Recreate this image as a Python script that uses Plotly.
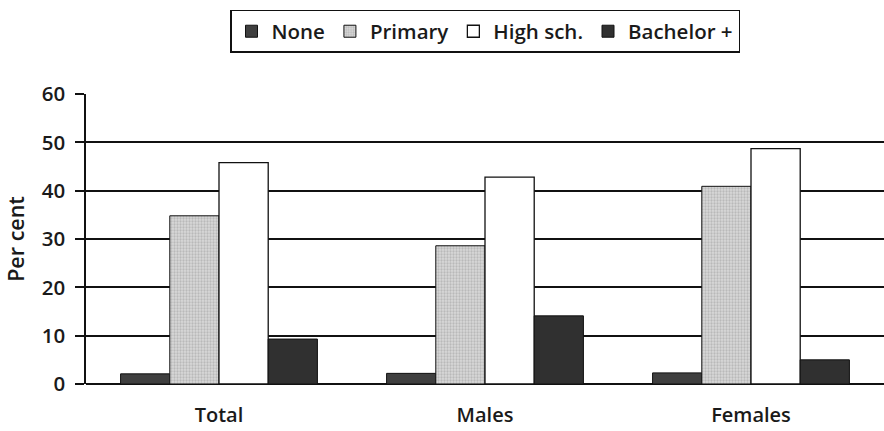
import plotly.graph_objects as go

categories = ["Total", "Males", "Females"]
series_names = ["None", "Primary", "High sch.", "Bachelor +"]
none_vals = [2.1, 2.2, 2.3]
primary_vals = [34.8, 28.6, 40.9]
highsch_vals = [45.8, 42.8, 48.7]
bachelor_vals = [9.3, 14.1, 5.0]
y_ticks = [0, 10, 20, 30, 40, 50, 60]

FONT = "Open Sans"
W = 600

fig = go.Figure()
fig.add_trace(go.Bar(name=series_names[0], x=categories, y=none_vals,
                     marker=dict(color="#3f3f3f", line=dict(color="#111", width=1))))
fig.add_trace(go.Bar(name=series_names[1], x=categories, y=primary_vals,
                     marker=dict(color="#cdcdcd", line=dict(color="#111", width=1),
                                 pattern=dict(shape=".", fgcolor="#9a9a9a", bgcolor="#d8d8d8",
                                              size=3, solidity=0.45))))
fig.add_trace(go.Bar(name=series_names[2], x=categories, y=highsch_vals,
                     marker=dict(color="#ffffff", line=dict(color="#111", width=1.3))))
fig.add_trace(go.Bar(name=series_names[3], x=categories, y=bachelor_vals,
                     marker=dict(color="#303030", line=dict(color="#111", width=1))))

fig.update_layout(
    width=884, height=431,
    margin=dict(l=86, r=0, t=94, b=47, autoexpand=False),
    paper_bgcolor="white", plot_bgcolor="white",
    barmode="group", bargap=0.26, bargroupgap=0,
    font=dict(family=FONT, size=20, color="#1a1a1a"),
    showlegend=True,
    legend=dict(orientation="h", x=0.5, xanchor="center", y=1.29, yanchor="top",
                bordercolor="#111", borderwidth=1.5, bgcolor="white",
                font=dict(family=FONT, size=20.5, weight=W),
                itemwidth=30, tracegroupgap=0),
    xaxis=dict(showline=False, ticks="", tickfont=dict(family=FONT, size=20, weight=W),
               ticklabelstandoff=17, showgrid=False, zeroline=False, automargin=False),
    yaxis=dict(range=[0, 60], tickvals=y_ticks, showgrid=True, gridcolor="#111", gridwidth=1.5,
               showline=True, linecolor="#111", linewidth=1.5, ticks="outside", ticklen=9,
               tickcolor="#111", tickwidth=1.5, automargin=False,
               zeroline=True, zerolinecolor="#111", zerolinewidth=1.5,
               tickfont=dict(family=FONT, size=20.5, weight=W), ticklabelstandoff=6,
               title=dict(text="Per cent", font=dict(family=FONT, size=21.5, weight=W), standoff=11)),
)

fig.write_html("out.html", config={"displayModeBar": False},
               post_script="document.body.style.margin='0';document.body.style.overflow='hidden';")
